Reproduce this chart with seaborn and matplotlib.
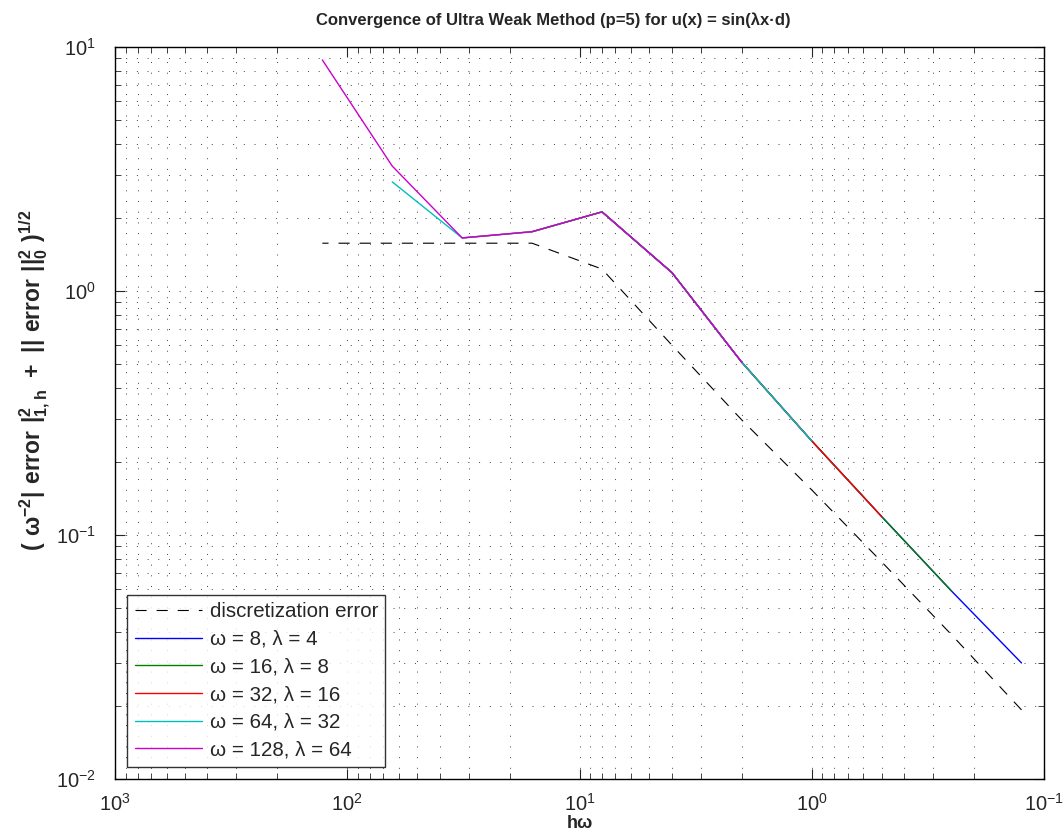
import numpy as np
import pandas as pd
import matplotlib
matplotlib.use("Agg")
import matplotlib.pyplot as plt
import seaborn as sns
from matplotlib.ticker import LogLocator, NullFormatter
from matplotlib import font_manager

# h*omega values (x axis)
hw_all = [128, 64, 32, 16, 8, 4, 2, 1, 0.5, 0.25, 0.125]
disc_err = [1.57, 1.57, 1.57, 1.57, 1.23, 0.60, 0.296, 0.153, 0.0776, 0.039, 0.0192]

# each run: omega, lambda, hw values and errors
hw_w8 = [8, 4, 2, 1, 0.5, 0.25, 0.125]
err_w8 = [2.11, 1.19, 0.51, 0.243, 0.119, 0.0589, 0.0299]
hw_w16 = [16, 8, 4, 2, 1, 0.5, 0.25]
err_w16 = [1.75, 2.11, 1.19, 0.51, 0.243, 0.119, 0.0589]
hw_w32 = [32, 16, 8, 4, 2, 1, 0.5]
err_w32 = [1.65, 1.75, 2.11, 1.19, 0.51, 0.243, 0.119]
hw_w64 = [64, 32, 16, 8, 4, 2, 1]
err_w64 = [2.80, 1.65, 1.75, 2.11, 1.19, 0.51, 0.243]
hw_w128 = [128, 64, 32, 16, 8, 4, 2]
err_w128 = [8.85, 3.25, 1.65, 1.75, 2.11, 1.19, 0.51]

labels = ["ω = 8, λ = 4", "ω = 16, λ = 8", "ω = 32, λ = 16",
          "ω = 64, λ = 32", "ω = 128, λ = 64"]
colors = [(0, 0, 1), (0, 0.5, 0), (1, 0, 0), (0, 0.75, 0.75), (0.8, 0, 0.8)]

runs = [(hw_w8, err_w8), (hw_w16, err_w16), (hw_w32, err_w32),
        (hw_w64, err_w64), (hw_w128, err_w128)]
frames = []
for lab, (x, y) in zip(labels, runs):
    frames.append(pd.DataFrame({"hw": x, "err": y, "run": lab}))
df = pd.concat(frames, ignore_index=True)

sns.set_style("ticks")
plt.rcParams["font.family"] = ["Liberation Sans", "DejaVu Sans"]
plt.rcParams["mathtext.fontset"] = "custom"
plt.rcParams["mathtext.rm"] = "Liberation Sans"
plt.rcParams["mathtext.bf"] = "Liberation Sans:bold"

# narrow font for the title if it is there
names = {f.name for f in font_manager.fontManager.ttflist}
title_font = "Liberation Sans Narrow" if "Liberation Sans Narrow" in names else "Liberation Sans"
title_size = 14 if title_font == "Liberation Sans Narrow" else 12

fig = plt.figure(figsize=(10.64, 8.4), dpi=100)
ax = fig.add_axes([115 / 1064, 1 - 779 / 840, (1044 - 115) / 1064, (779 - 47) / 840])

sns.lineplot(x=hw_all, y=disc_err, color="k", lw=0.8, ax=ax, legend=False)
ax.lines[0].set_dashes((10, 9))
sns.lineplot(data=df, x="hw", y="err", hue="run", hue_order=labels,
             palette=dict(zip(labels, colors)), lw=1.0, ax=ax, legend=False,
             sort=False, estimator=None)

ax.set_xscale("log")
ax.set_yscale("log")
ax.set_xlim(1e3, 1e-1)
ax.set_ylim(1e-2, 1e1)

for axis in (ax.xaxis, ax.yaxis):
    axis.set_major_locator(LogLocator(base=10, numticks=10))
    axis.set_minor_locator(LogLocator(base=10, subs=np.arange(2, 10), numticks=20))
    axis.set_minor_formatter(NullFormatter())

ax.grid(True, which="both", color="k", lw=0.7, linestyle=(0, (1, 10)), alpha=0.75)
ax.tick_params(which="both", direction="in", top=True, right=True, labelsize=14.5)
ax.tick_params(which="major", length=7, width=0.8)
ax.tick_params(which="minor", length=4, width=0.6)
ax.tick_params(axis="x", pad=10)
ax.tick_params(axis="y", pad=14)
for s in ax.spines.values():
    s.set_linewidth(1.0)
    s.set_color("k")

ax.set_title("Convergence of Ultra Weak Method (p=5) for u(x) = sin(λx·d)",
             fontsize=title_size, fontweight="bold", pad=16, family=title_font,
             x=0.4715)
ax.set_xlabel("hω", fontsize=13, fontweight="bold", labelpad=0)
ax.set_ylabel(r"$\mathbf{(\ \omega^{-2}|\ error\ |^{2}_{1,h}\ +\ ||\ error\ ||^{2}_{0}\ )^{1/2}}$",
              fontsize=16.5)
ax.yaxis.set_label_coords(-0.068, 0.545)

handles = ax.lines[:6]
leg = ax.legend(handles, ["discretization error"] + labels, loc="lower left",
                fontsize=14.8, frameon=True, fancybox=False, edgecolor="k",
                handlelength=3.3, handletextpad=0.35, labelspacing=0.42,
                borderpad=0.35, borderaxespad=0.6)
leg.get_frame().set_linewidth(1.0)

fig.savefig("out.png", dpi=100)
